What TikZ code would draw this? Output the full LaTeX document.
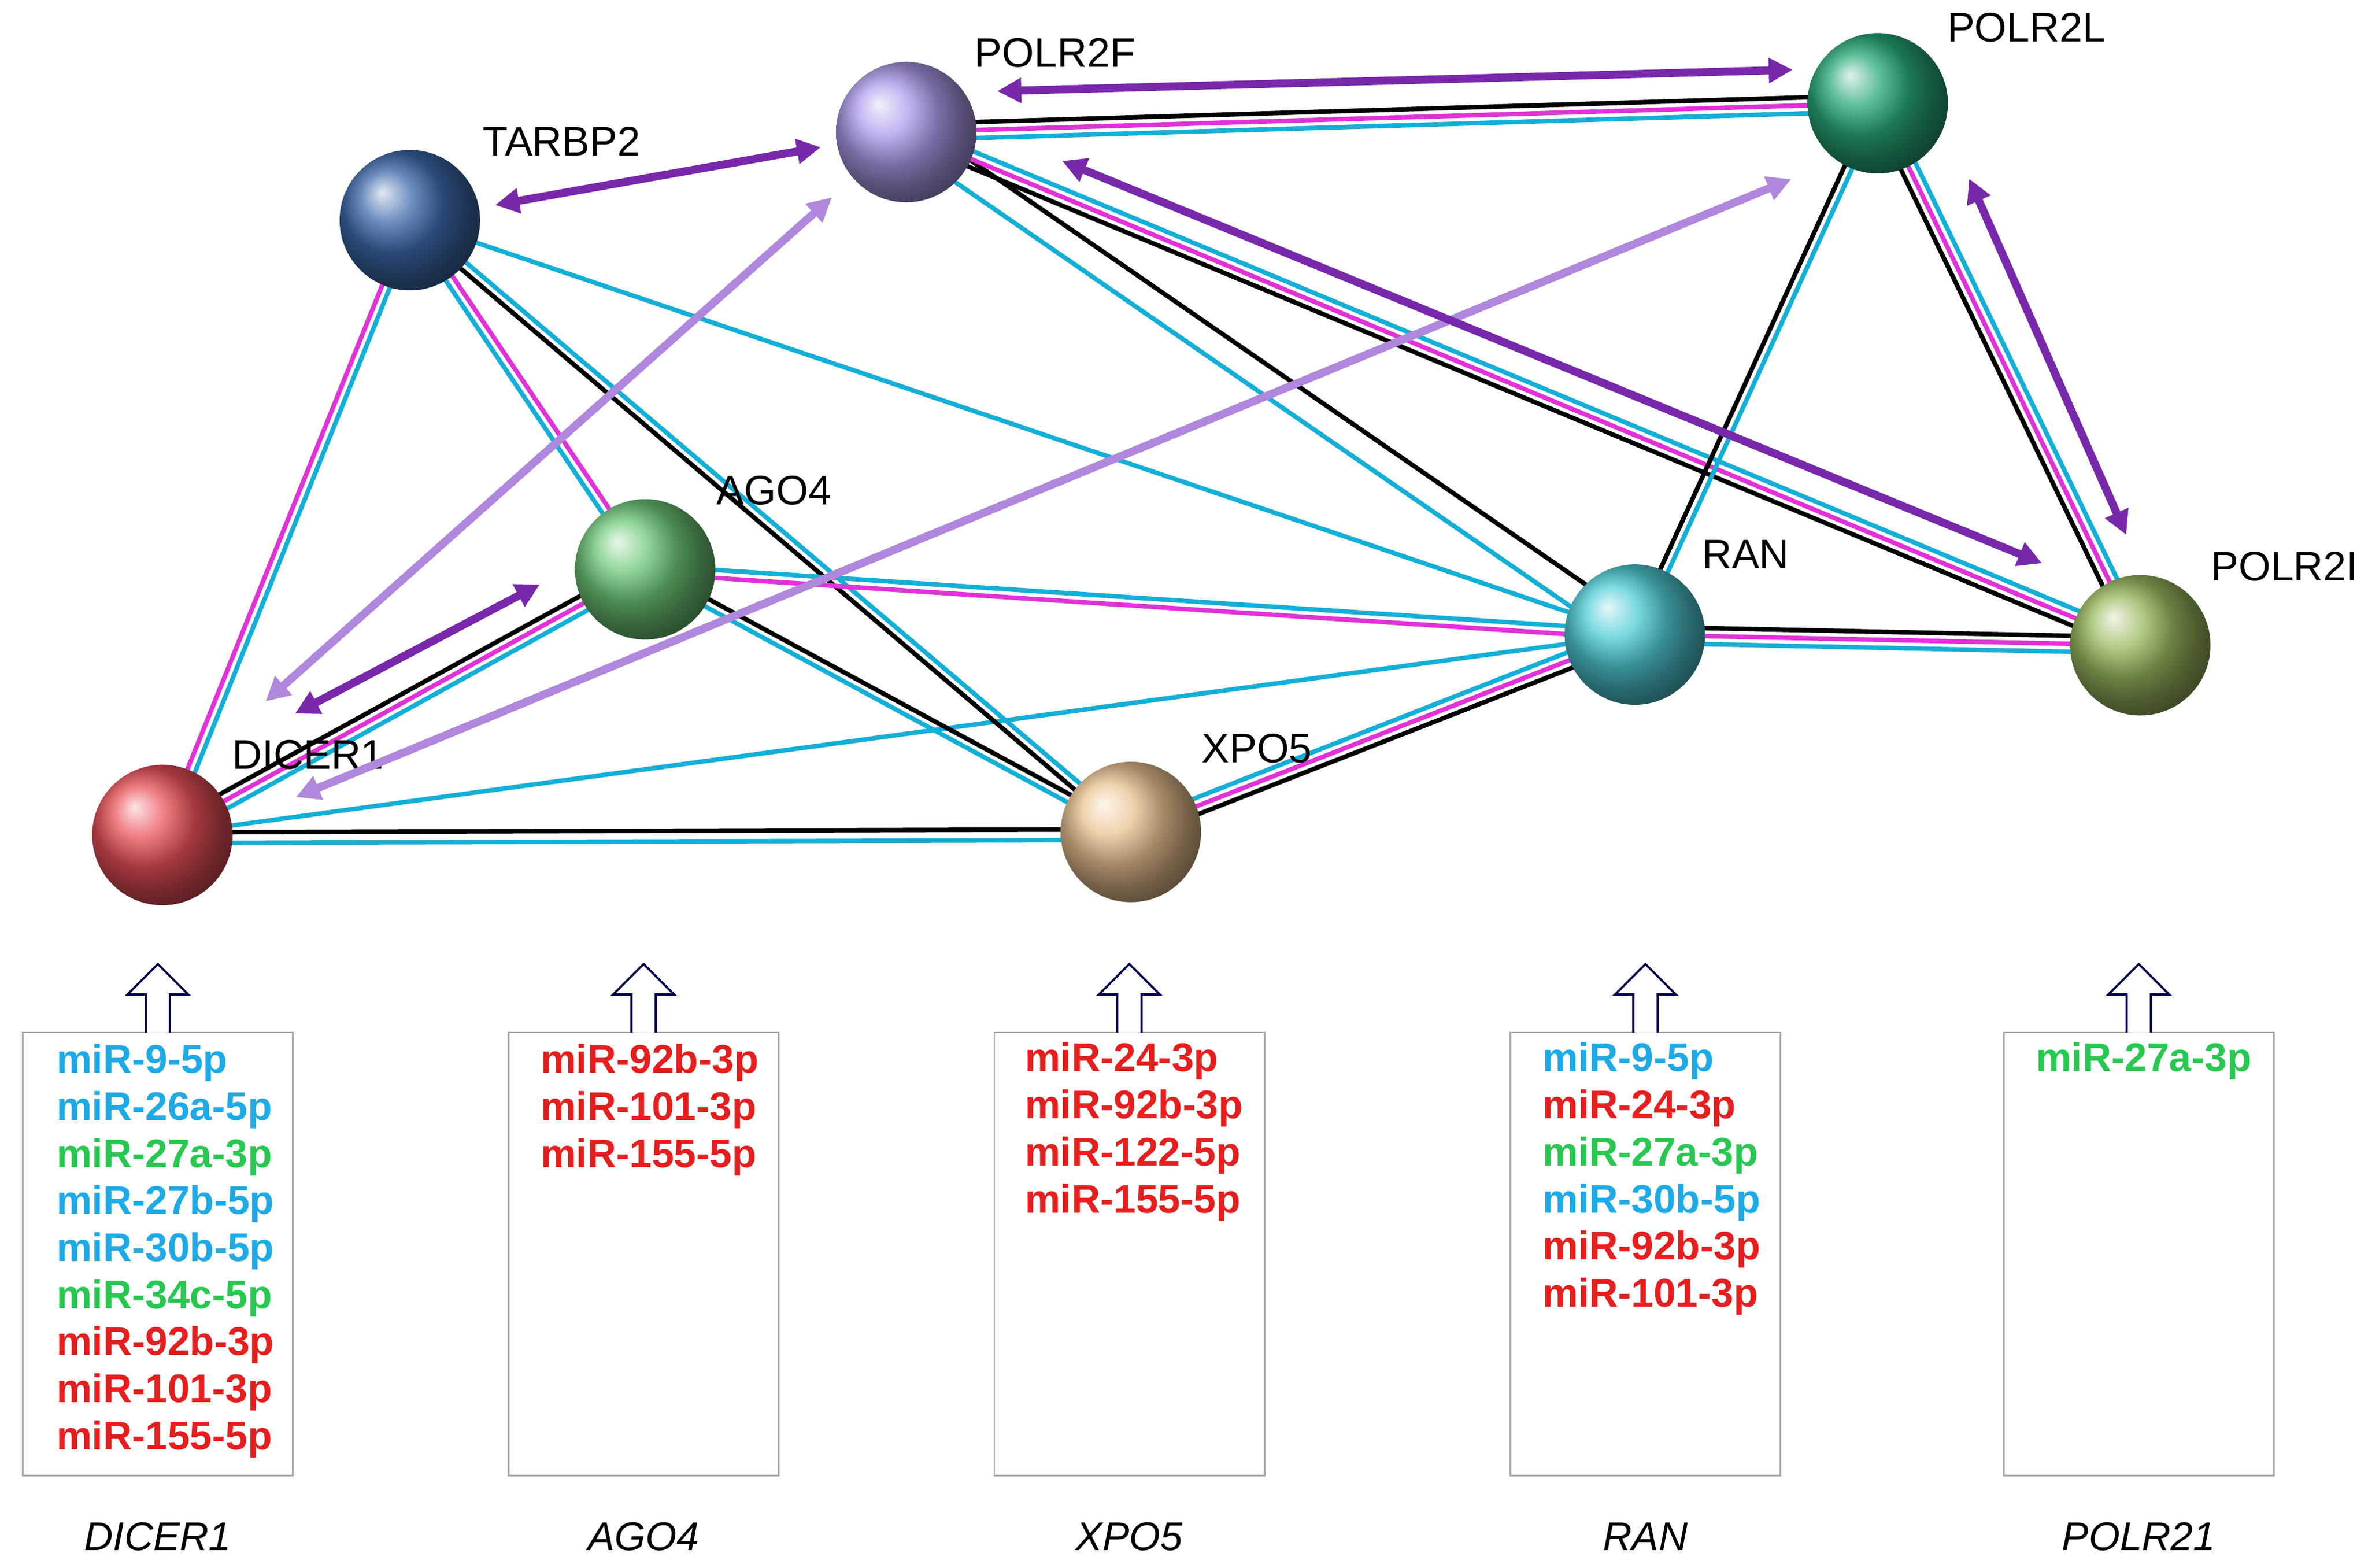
\documentclass[tikz,border=0pt]{standalone}
\usepackage{fontspec}
\setmainfont{Liberation Sans}
\usetikzlibrary{calc,arrows.meta}
\definecolor{cy}{RGB}{20,175,215}
\definecolor{mg}{RGB}{225,50,215}
\definecolor{dp}{RGB}{120,40,170}
\definecolor{lp}{RGB}{175,135,220}
\definecolor{tb}{RGB}{30,170,230}
\definecolor{tg}{RGB}{40,200,80}
\definecolor{tr}{RGB}{230,30,30}
\definecolor{cTA}{RGB}{60,105,170}
\definecolor{cPF}{RGB}{175,155,235}
\definecolor{cPL}{RGB}{40,170,120}
\definecolor{cAG}{RGB}{110,200,120}
\definecolor{cDI}{RGB}{235,80,90}
\definecolor{cXP}{RGB}{235,195,145}
\definecolor{cRA}{RGB}{80,205,215}
\definecolor{cPI}{RGB}{155,185,95}
\newcommand\pe[4]{\draw[#4] ($(#1)!#3!90:(#2)$) -- ($(#2)!#3!-90:(#1)$);}
\tikzset{
 e/.style={line width=1.7pt},
 ecy/.style={e,cy}, emg/.style={e,mg}, ebk/.style={e,black},
 ball/.style={circle,minimum size=1.85cm,inner sep=0pt,shading=ball,ball color=#1},
 lab/.style={font=\fontsize{15.5}{18}\selectfont},
 darr/.style={dp,line width=3pt,{Triangle[length=9pt,width=9pt]}-{Triangle[length=9pt,width=9pt]},shorten <=6pt,shorten >=6pt},
 larr/.style={lp,line width=3pt,{Triangle[length=9pt,width=9pt]}-{Triangle[length=9pt,width=9pt]}},
 box/.style={draw=gray!70,line width=0.6pt,minimum width=3.56cm,minimum height=5.84cm,inner sep=0pt},
 mi/.style={font=\bfseries\fontsize{15}{17}\selectfont,anchor=west},
 up/.style={draw=black!70!blue,line width=0.8pt,fill=white},
 gl/.style={font=\itshape\fontsize{15}{18}\selectfont}
}
\begin{document}
\begin{tikzpicture}[x=0.02cm,y=-0.02cm]
\useasboundingbox (0,0) rectangle (1560,1032.5);
\coordinate (TA) at (270,145);
\coordinate (PF) at (597,87);
\coordinate (PL) at (1237,68);
\coordinate (AG) at (425,375);
\coordinate (DI) at (107,550);
\coordinate (XP) at (745,548);
\coordinate (RA) at (1077,418);
\coordinate (PI) at (1410,425);
% edges
\pe{DI}{TA}{-2.5pt}{ecy}\pe{DI}{TA}{0.5pt}{emg}
\pe{DI}{AG}{-3pt}{ecy}\pe{DI}{AG}{0pt}{emg}\pe{DI}{AG}{3pt}{ebk}
\pe{DI}{XP}{-3pt}{ecy}\pe{DI}{XP}{1pt}{ebk}
\pe{DI}{RA}{0pt}{ecy}
\pe{TA}{AG}{-1.5pt}{ecy}\pe{TA}{AG}{1.5pt}{emg}
\pe{TA}{XP}{-1.5pt}{ebk}\pe{TA}{XP}{1.5pt}{ecy}
\pe{TA}{RA}{0pt}{ecy}
\pe{AG}{XP}{-1.5pt}{ecy}\pe{AG}{XP}{1.5pt}{ebk}
\pe{AG}{RA}{-1.5pt}{emg}\pe{AG}{RA}{1.5pt}{ecy}
\pe{XP}{RA}{-3pt}{ebk}\pe{XP}{RA}{0pt}{emg}\pe{XP}{RA}{3pt}{ecy}
\pe{PF}{PL}{-3pt}{ecy}\pe{PF}{PL}{0pt}{emg}\pe{PF}{PL}{3pt}{ebk}
\pe{PF}{RA}{-5pt}{ecy}\pe{PF}{RA}{5pt}{ebk}
\pe{PF}{PI}{-3pt}{ebk}\pe{PF}{PI}{0pt}{emg}\pe{PF}{PI}{3pt}{ecy}
\pe{PL}{RA}{-1.5pt}{ebk}\pe{PL}{RA}{1.5pt}{ecy}
\pe{PL}{PI}{-3pt}{ebk}\pe{PL}{PI}{0pt}{emg}\pe{PL}{PI}{3pt}{ecy}
\pe{RA}{PI}{-3pt}{ecy}\pe{RA}{PI}{0pt}{emg}\pe{RA}{PI}{3pt}{ebk}
% nodes
\node[ball=cTA] (nTA) at (TA) {};
\node[ball=cPF] (nPF) at (PF) {};
\node[ball=cPL] (nPL) at (PL) {};
\node[ball=cAG] (nAG) at (AG) {};
\node[ball=cDI] (nDI) at (DI) {};
\node[ball=cXP] (nXP) at (XP) {};
\node[ball=cRA] (nRA) at (RA) {};
\node[ball=cPI] (nPI) at (PI) {};
\node[lab] at (370,93) {TARBP2};
\node[lab] at (695,35) {POLR2F};
\node[lab] at (1335,18) {POLR2L};
\node[lab] at (510,323) {AGO4};
\node[lab] at (203,497) {DICER1};
\node[lab] at (828,493) {XPO5};
\node[lab] at (1150,365) {RAN};
\node[lab] at (1505,373) {POLR2I};
% arrows
\draw[larr] (175,462) -- (548,130);
\draw[larr] (195,525) -- (1180,118);
\draw[darr] (nTA) -- (nPF);
\draw[darr,shorten <=0pt,shorten >=0pt] ($(nPF)+(60,-27)$) -- ($(nPL)+(-56,-22)$);
\draw[darr] (690,102) -- (1355,375);
\draw[darr] (1293,108) -- (1405,362);
\draw[darr] (185,475) -- (365,380);
% boxes
\foreach \n/\x/\g in {b1/104/DICER1,b2/424/AGO4,b3/744/XPO5,b4/1084/RAN,b5/1409/POLR21}{
  \node[box] (\n) at (\x,826) {};
  \node[gl] (g\n) at (\x,1012) {\g};
  \draw[up] (\x-8,680) -- (\x-8,655) -- (\x-20,655) -- (\x,635) -- (\x+20,655) -- (\x+8,655) -- (\x+8,680);
}
\foreach \t/\c [count=\i from 0] in {miR-9-5p/tb,miR-26a-5p/tb,miR-27a-3p/tg,miR-27b-5p/tb,miR-30b-5p/tb,miR-34c-5p/tg,miR-92b-3p/tr,miR-101-3p/tr,miR-155-5p/tr}
  \node[mi,text=\c] at (31,700+31*\i) {\t};
\foreach \t/\c [count=\i from 0] in {miR-92b-3p/tr,miR-101-3p/tr,miR-155-5p/tr}
  \node[mi,text=\c] at (350,700+31*\i) {\t};
\foreach \t/\c [count=\i from 0] in {miR-24-3p/tr,miR-92b-3p/tr,miR-122-5p/tr,miR-155-5p/tr}
  \node[mi,text=\c] at (669,699+31*\i) {\t};
\foreach \t/\c [count=\i from 0] in {miR-9-5p/tb,miR-24-3p/tr,miR-27a-3p/tg,miR-30b-5p/tb,miR-92b-3p/tr,miR-101-3p/tr}
  \node[mi,text=\c] at (1010,699+31*\i) {\t};
\node[mi,text=tg] at (1335,699) {miR-27a-3p};
\end{tikzpicture}
\end{document}
